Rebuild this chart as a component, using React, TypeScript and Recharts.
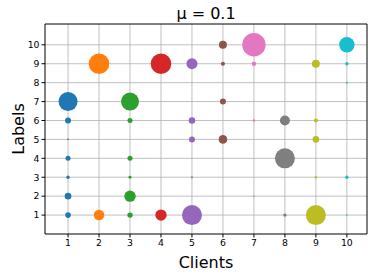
import React from 'react';
import { ScatterChart, Scatter, XAxis, YAxis, ZAxis, ReferenceLine } from 'recharts';

const clients = [1, 2, 3, 4, 5, 6, 7, 8, 9, 10];
const colors = ['#1f77b4', '#ff7f0e', '#2ca02c', '#d62728', '#9467bd', '#8c564b', '#e377c2', '#7f7f7f', '#bcbd22', '#17becf'];

// labels held by each client
const clientLabels = [
  [7, 6, 5, 4, 3, 2, 1],
  [9, 1],
  [7, 6, 4, 3, 2, 1],
  [9, 1],
  [9, 6, 5, 3, 1],
  [10, 9, 7, 5],
  [10, 9, 6, 2],
  [6, 4, 1],
  [9, 6, 5, 3, 1],
  [10, 9, 8, 3, 1],
];

// bubble sizes (marker area) for each of those labels
const clientSizes = [
  [284, 28, 2, 20, 9, 34, 25],
  [333, 88],
  [254, 20, 20, 7, 102, 23],
  [333, 102],
  [95, 34, 28, 3, 314],
  [50, 13, 28, 58],
  [430, 15, 5, 2],
  [79, 314, 9],
  [50, 13, 34, 5, 314],
  [186, 9, 3, 9, 2],
];

const labelTicks = [1, 2, 3, 4, 5, 6, 7, 8, 9, 10];

const font = '"DejaVu Sans", sans-serif';
const gridColor = '#b0b0b0';

const YTitle = (props: any) => {
  const { viewBox } = props;
  const cy = viewBox.y + viewBox.height / 2;
  return (
    <text x={18} y={cy} transform={`rotate(-90, 18, ${cy})`} textAnchor="middle" dominantBaseline="central"
      fontSize={16} fontFamily={font} fill="#000">
      Labels
    </text>
  );
};

export default function App() {
  const series = clients.map((c, i) => ({
    client: c,
    color: colors[i],
    data: clientLabels[i].map((l, j) => ({ x: c, y: l, z: clientSizes[i][j] })),
  }));

  return (
    <div style={{ position: 'absolute', left: 0, top: 0, width: 374, height: 277, background: '#fff' }}>
      <ScatterChart width={374} height={277} margin={{ top: 24, right: 7, left: 0, bottom: 0 }}>
        <XAxis
          type="number"
          dataKey="x"
          domain={[0.256, 10.65]}
          ticks={clients}
          allowDataOverflow
          height={43}
          tickSize={3.5}
          tickMargin={2}
          stroke="#000"
          tick={{ fontSize: 9.3, fontFamily: font, fill: '#000' }}
          label={{ value: 'Clients', position: 'insideBottom', offset: 9, fontSize: 16, fontFamily: font, fill: '#000' }}
        />
        <YAxis
          type="number"
          dataKey="y"
          domain={[0, 11.1]}
          ticks={labelTicks}
          allowDataOverflow
          width={45}
          tickSize={3.5}
          tickMargin={2}
          stroke="#000"
          tick={{ fontSize: 9.3, fontFamily: font, fill: '#000' }}
          label={<YTitle />}
        />
        <ZAxis type="number" dataKey="z" domain={[0, 500]} range={[0, 500]} />
        {series.map(s => (
          <Scatter key={s.client} data={s.data} fill={s.color} isAnimationActive={false} />
        ))}
        {clients.map(c => (
          <ReferenceLine key={`gx${c}`} x={c} stroke={gridColor} strokeOpacity={0.8} />
        ))}
        {labelTicks.map(t => (
          <ReferenceLine key={`gy${t}`} y={t} stroke={gridColor} strokeOpacity={0.8} />
        ))}
        <ReferenceLine y={11.1} stroke="#000" ifOverflow="extendDomain" />
        <ReferenceLine x={10.65} stroke="#000" ifOverflow="extendDomain" />
        <text x={206} y={19} textAnchor="middle" fontSize={16} fontFamily={font} fill="#000">
          μ = 0.1
        </text>
      </ScatterChart>
    </div>
  );
}
